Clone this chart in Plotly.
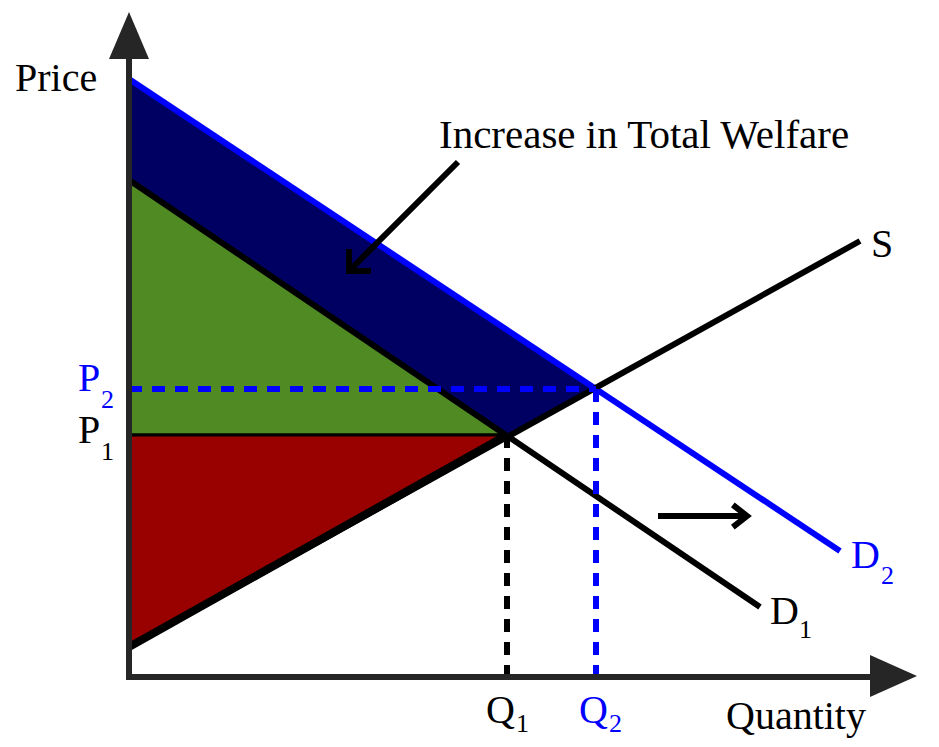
import math
import plotly.graph_objects as go

# ---- data (diagram units: quantity to the right, price upward) ----
demand1_q = [0, 631]
demand1_p = [497, 70]
demand2_q = [0, 711]
demand2_p = [598, 126]
supply_q = [0, 731]
supply_p = [30, 436]
eq_q = [378, 467]        # Q1, Q2
eq_p = [242, 288]        # P1, P2
axis_end_q = 788
axis_end_p = 665

BLUE = "#0000ff"
NAVY = "#000062"
GREEN = "#508a23"
RED = "#990000"
AXIS = "#262626"
FONT = "Liberation Serif"

fig = go.Figure()

def poly(xs, ys, color, lw=0, lc="black"):
    fig.add_trace(go.Scatter(x=xs + [xs[0]], y=ys + [ys[0]], fill="toself", fillcolor=color,
                             mode="lines", line=dict(width=lw, color=lc), hoverinfo="skip",
                             showlegend=False))

def line(xs, ys, color, w, dash="solid"):
    fig.add_trace(go.Scatter(x=xs, y=ys, mode="lines", line=dict(color=color, width=w, dash=dash),
                             hoverinfo="skip", showlegend=False))

q1, q2 = eq_q
p1, p2 = eq_p

# welfare increase area (between D1 and D2 above supply)
poly([demand2_q[0], q2, q1, demand1_q[0]], [demand2_p[0], p2, p1, demand1_p[0]], NAVY)
# consumer surplus
poly([demand1_q[0], q1, 0], [demand1_p[0], p1, p1], GREEN, 3, "black")
# producer surplus
poly([0, q1, supply_q[0]], [p1, p1, supply_p[0]], RED, 3, "black")

# curves
line(demand2_q, demand2_p, BLUE, 6)
line(demand1_q, demand1_p, "black", 6)
line(supply_q, supply_p, "black", 6)
line([supply_q[0], q1], [supply_p[0], p1], "black", 8)

# dashed guides
line([0, q2], [p2, p2], BLUE, 6, "13px,10px")
line([q2, q2], [p2, 0], BLUE, 6, "13px,10px")
line([q1, q1], [p1, 0], "black", 6, "13px,10px")

# axes
line([0, 0], [-3, axis_end_p - 44], AXIS, 6)
line([-3, axis_end_q - 44], [0, 0], AXIS, 6)
poly([0, -20, 20], [axis_end_p, axis_end_p - 47, axis_end_p - 47], AXIS)
poly([axis_end_q, axis_end_q - 47, axis_end_q - 47], [1, 22, -20], AXIS)

# arrows with chevron heads
def arrow(x0, y0, x1, y1, arm, ang, w=6):
    line([x0, x1], [y0, y1], "black", w)
    d = math.atan2(y1 - y0, x1 - x0)
    xs, ys = [], []
    for s in (1, -1):
        a = d + math.pi + s * math.radians(ang)
        xs.append(x1 + arm * math.cos(a))
        ys.append(y1 + arm * math.sin(a))
    fig.add_trace(go.Scatter(x=[xs[0], x1, xs[1]], y=[ys[0], y1, ys[1]], mode="lines",
                             line=dict(color="black", width=w), hoverinfo="skip", showlegend=False))

arrow(329, 515, 220, 406, 22, 45)
arrow(529, 161, 618, 161, 18, 38)

def label(q, p, text, color="black", size=40):
    fig.add_annotation(x=q, y=p, text=text, showarrow=False, xanchor="center", yanchor="middle",
                       font=dict(family=FONT, size=size, color=color))

label(-73, 600, "Price")
label(667, -38, "Quantity")
label(515, 543, "Increase in Total Welfare", size=41)
label(753, 434, "S")
label(736, 123, "D", BLUE); label(758, 102, "2", BLUE, 26)
label(655, 67, "D"); label(676, 48, "1", size=26)
label(-40, 300, "P", BLUE); label(-22, 278, "2", BLUE, 26)
label(-40, 248, "P"); label(-22, 226, "1", size=26)
label(371, -32, "Q"); label(393, -46, "1", size=26)
label(464, -32, "Q", BLUE); label(486, -46, "2", BLUE, 26)

fig.update_layout(
    width=939, height=747, margin=dict(l=0, r=0, t=0, b=0),
    paper_bgcolor="white", plot_bgcolor="white",
    xaxis=dict(range=[-129, 810], visible=False, fixedrange=True),
    yaxis=dict(range=[-70, 677], visible=False, fixedrange=True),
    showlegend=False,
)

fig.write_html("out.html")
